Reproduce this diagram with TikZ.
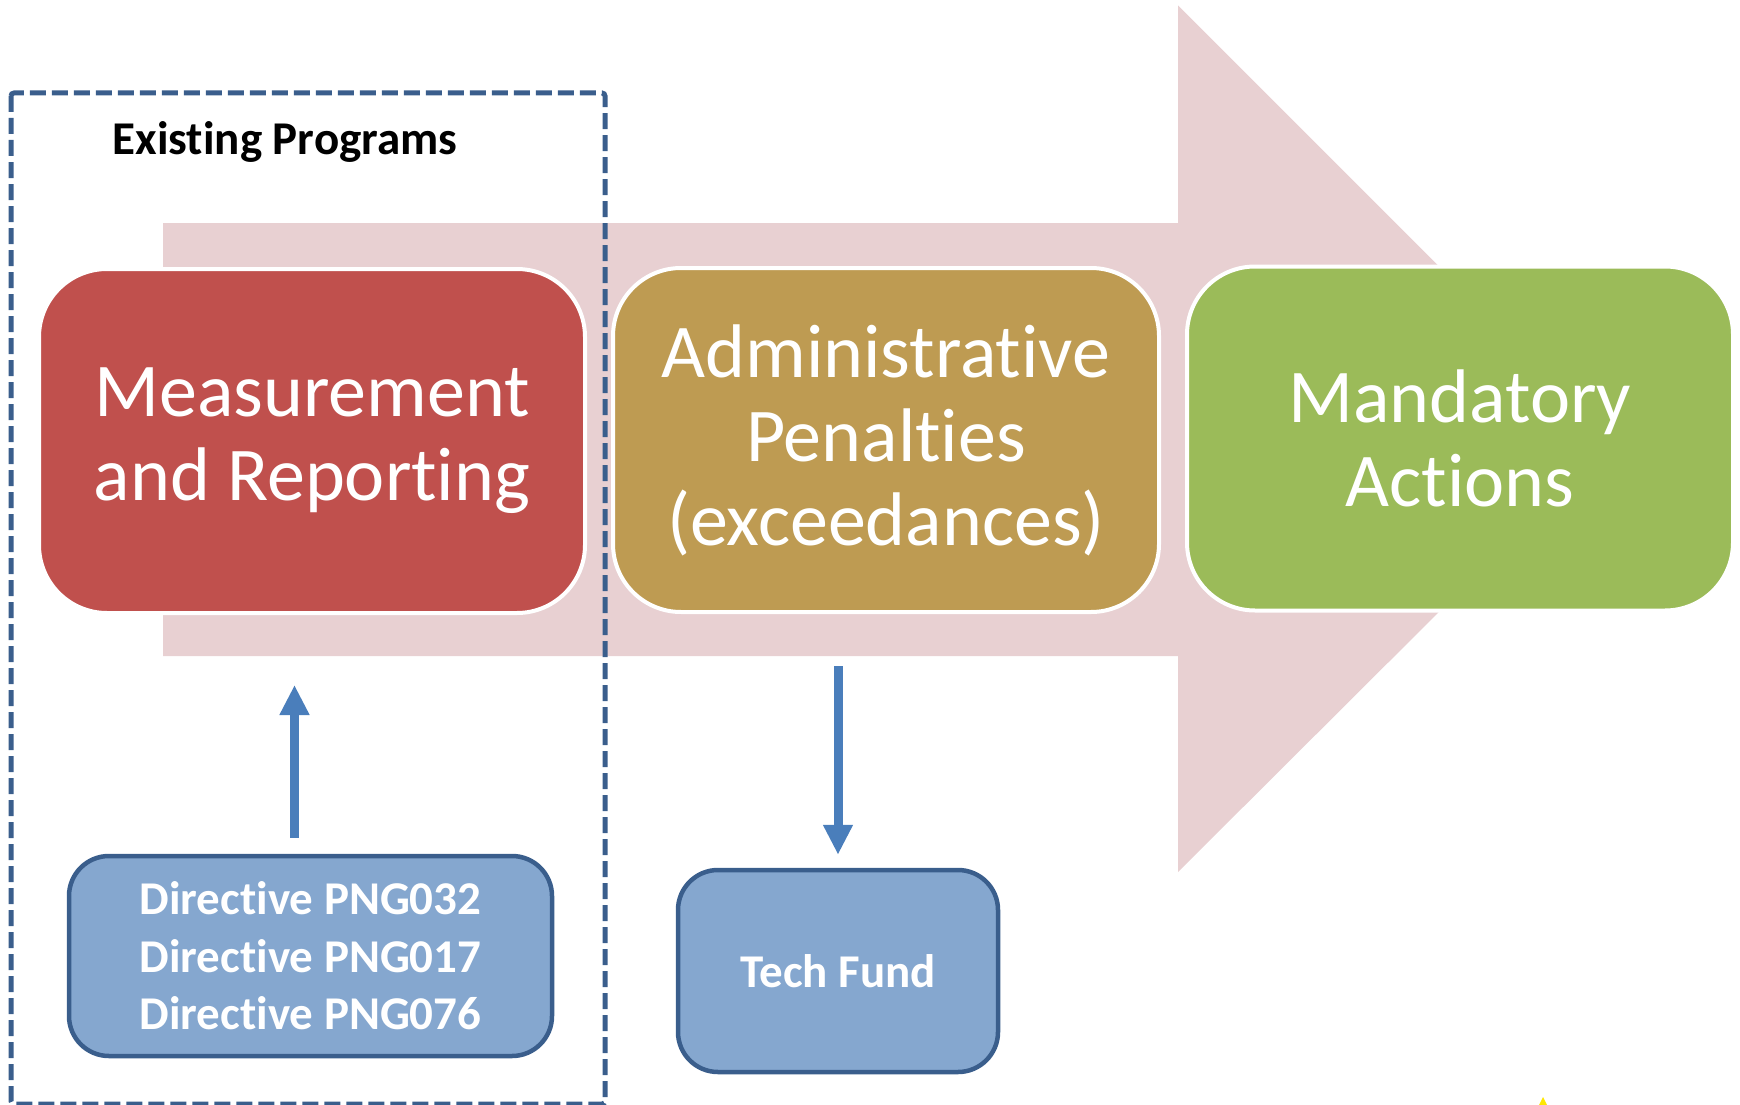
\documentclass[tikz,border=0pt]{standalone}
\usepackage{fontspec}
\setmainfont{Carlito}[Ligatures = NoCommon]
\usepackage{tikz}
\usetikzlibrary{arrows.meta}
\usetikzlibrary{positioning}
\definecolor{measred}{RGB}{192,80,77}
\definecolor{admintan}{RGB}{190,155,82}
\definecolor{actgreen}{RGB}{155,187,89}
\definecolor{bigpink}{RGB}{232,208,210}
\definecolor{progblue}{RGB}{133,167,207}
\definecolor{progedge}{RGB}{58,94,140}
\definecolor{flowblue}{RGB}{74,126,187}
\tikzset{stage/.style = {rounded corners = 68pt, draw = white, line width = 4pt,
                         minimum width = 546pt, minimum height = 344pt, inner sep = 0,
                         text = white, align = center, font = \fontsize{76}{84}\selectfont}}
\tikzset{prog/.style = {rounded corners = 40pt, fill = progblue, draw = progedge, line width = 4.5pt,
                        inner sep = 0, text = white, align = center,
                        font = \bfseries\fontsize{47}{57.5}\selectfont}}
\tikzset{flow/.style = {draw = flowblue, line width = 9pt,
                        -{Triangle[width = 28pt, length = 30pt]}}}

\begin{document}
\begin{tikzpicture}[x = 1pt, y = -1pt]
      \useasboundingbox (0, 0) rectangle (1740, 1105);
      \fill [bigpink] (163, 223) -- (1178, 223) -- (1178, 5.5) -- (1612, 439.5)
      -- (1178, 872) -- (1178, 656) -- (163, 656) -- cycle;

      \node [stage, fill = measred] (measure) at (312, 441) {Measurement\\and Reporting};
      \node [stage, fill = admintan] (admin) at (886, 440) {Administrative\\Penalties\\(exceedances)};
      \node [stage, fill = actgreen] (actions) at (1460, 438.5) {Mandatory\\Actions};

      \node [prog, minimum width = 483pt, minimum height = 200pt] (dirs) at (310.5, 956)
      {Directive PNG032\\Directive PNG017\\Directive PNG076};
      \node [prog, minimum width = 320pt, minimum height = 202pt] (fund) at (838, 971) {Tech Fund};

      \draw [flow, shorten <= 16pt, shorten >= 70pt] ([xshift = -16pt] dirs.north)
      -- ([xshift = -16pt] dirs.north |- measure.south);
      \draw [flow, shorten <= 52pt, shorten >= 13pt] (fund.north |- admin.south) -- (fund.north);

      \draw [progedge, line width = 5pt, dash pattern = on 16pt off 6pt, rounded corners = 3pt]
      (11, 93) rectangle (605, 1104);
      \node [font = \bfseries\fontsize{47}{57}\selectfont] (existing) at (285, 142) {Existing Programs};

      \fill [yellow!90!orange] (1539, 1105) -- (1543, 1097) -- (1547, 1105) -- cycle;
    \end{tikzpicture}
\end{document}
